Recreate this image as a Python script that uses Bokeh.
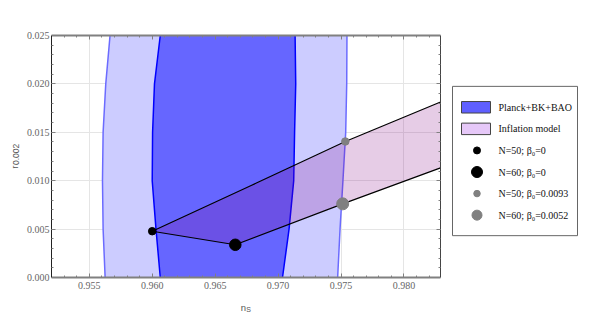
import math
from bokeh.plotting import figure
from bokeh.models import (Range1d, LinearAxis, SingleIntervalTicker, NumeralTickFormatter,
                          CustomJSTickFormatter)
from bokeh.layouts import row, column
from bokeh.embed import file_html
from bokeh.resources import INLINE
from bokeh.core.properties import value

# ---- data ----
r_levels = [0.000, 0.005, 0.010, 0.015, 0.020, 0.025]
outer_left = [0.95626, 0.95610, 0.95605, 0.95610, 0.95631, 0.95665]
outer_right = [0.97473, 0.97492, 0.97515, 0.97537, 0.97545, 0.97547]
inner_left = [0.96064, 0.96030, 0.96000, 0.96003, 0.96018, 0.96064]
inner_right = [0.97035, 0.97087, 0.97124, 0.97131, 0.97140, 0.97135]

n50_ns = [0.9600, 0.96786, 0.97534, 0.9829]
n50_r = [0.00478, 0.00950, 0.01405, 0.01813]
n60_ns = [0.9666, 0.97513, 0.9829]
n60_r = [0.00338, 0.00761, 0.01133]

pt_labels = ["N=50; β₀=0", "N=60; β₀=0", "N=50; β₀=0.0093", "N=60; β₀=0.0052"]
pt_ns = [0.9600, 0.9666, 0.97534, 0.97513]
pt_r = [0.00478, 0.00338, 0.01405, 0.00761]

region_labels = ["Planck+BK+BAO", "Inflation model"]

x_title = ["n", "S"]
y_title = ["r", "0.002"]

# ---- styles ----
pt_colors = ["black", "black", "#808080", "#808080"]
pt_sizes = [7.5, 11.5, 7.5, 12]
leg_pt_sizes = [7, 11, 6.5, 10]
region_colors = ["#5f5fff", "#e6c8f8"]

SERIF = "Liberation Serif"
SANS = "Liberation Sans"
TITLE_COLOR = "#555555"

MAIN_H = 295
YLAB_W = 23

p = figure(width=442 - YLAB_W, height=MAIN_H, x_range=Range1d(0.9520, 0.9829),
           y_range=Range1d(0, 0.025),
           output_backend="svg", toolbar_location=None,
           x_axis_location=None, y_axis_location=None,
           min_border_left=48 - YLAB_W, min_border_right=2, min_border_top=35, min_border_bottom=18)
p.outline_line_color = None
p.background_fill_color = "white"
p.border_fill_color = "white"


def mk_axis(labels, line_color, line_width, standoff=4):
    ax = LinearAxis(ticker=SingleIntervalTicker(interval=0.005, num_minor_ticks=5))
    if labels:
        ax.formatter = NumeralTickFormatter(format="0.000")
        ax.major_label_standoff = standoff
    else:
        ax.formatter = CustomJSTickFormatter(code="return ''")
        ax.major_label_standoff = 0
    ax.major_tick_in = 4
    ax.major_tick_out = 0
    ax.minor_tick_in = 2
    ax.minor_tick_out = 0
    ax.major_tick_line_color = "#808080"
    ax.minor_tick_line_color = "#808080"
    ax.axis_line_color = line_color
    ax.axis_line_width = line_width
    ax.major_label_text_font = SERIF
    ax.major_label_text_font_size = "10px"
    ax.major_label_text_color = "#666666"
    return ax


p.add_layout(mk_axis(True, "#808080", 2), "below")
p.add_layout(mk_axis(True, "#222222", 1, standoff=2), "left")
p.add_layout(mk_axis(False, "#808080", 2), "above")
p.add_layout(mk_axis(False, "#444444", 1), "right")

# confidence regions
outer_x = outer_left + outer_right[::-1]
outer_y = r_levels + r_levels[::-1]
inner_x = inner_left + inner_right[::-1]
inner_y = r_levels + r_levels[::-1]
p.patch(outer_x, outer_y, fill_color="#ccccff", line_color=None)
p.line(outer_left, r_levels, line_color="#6b6bff", line_width=1.5)
p.line(outer_right, r_levels, line_color="#6b6bff", line_width=1.5)
p.patch(inner_x, inner_y, fill_color="#6666ff", line_color=None)
p.line(inner_left, r_levels, line_color="#0000ff", line_width=1.5)
p.line(inner_right, r_levels, line_color="#0000ff", line_width=1.5)

# inflation model band
infl_x = n50_ns + n60_ns[::-1]
infl_y = n50_r + n60_r[::-1]
p.patch(infl_x, infl_y, fill_color="#800080", fill_alpha=0.2, line_color=None)
p.line(n50_ns, n50_r, line_color="black", line_width=1.2)
p.line(n60_ns, n60_r, line_color="black", line_width=1.2)
p.line([n50_ns[0], n60_ns[0]], [n50_r[0], n60_r[0]], line_color="black", line_width=1.2)

p.scatter(pt_ns, pt_r, size=pt_sizes, fill_color=pt_colors, line_color=pt_colors)


def blank_fig(w, h, y_down=False):
    f = figure(width=w, height=h, x_range=Range1d(0, w),
               y_range=Range1d(h, 0) if y_down else Range1d(0, h),
               output_backend="svg", toolbar_location=None,
               x_axis_location=None, y_axis_location=None, min_border=0)
    f.outline_line_color = None
    f.grid.visible = False
    return f


# ---- y axis title panel (rotated, with subscript) ----
ylab = blank_fig(YLAB_W, MAIN_H)
ylab.text([13.5, 15.5], [MAIN_H - 160.5, MAIN_H - 145], text=y_title, angle=math.pi / 2,
          text_align="center", text_baseline="middle", text_font=value(SANS),
          text_font_size=["9.5px", "8.5px"], text_color=TITLE_COLOR)

# ---- legend panel ----
lg = blank_fig(143, MAIN_H, y_down=True)
LEG_TOP = 87.5
LEG_PITCH = 26.3
row_y = [LEG_TOP + i * LEG_PITCH for i in range(len(region_labels) + len(pt_labels))]

lg.quad(left=10, right=135, top=62, bottom=244, fill_color="white", line_color="#666666", line_width=1)
lg.quad(left=19, right=48, top=[y - 7 for y in row_y[:2]], bottom=[y + 7 for y in row_y[:2]],
        fill_color=region_colors, line_color="#444444", line_width=1)
lg.scatter([34.5] * len(pt_labels), row_y[2:], size=leg_pt_sizes,
           fill_color=pt_colors, line_color=pt_colors)
lg.text([56] * len(row_y), row_y, text=region_labels + pt_labels, text_baseline="middle",
        text_align="left", text_font=value(SERIF), text_font_size="10px", text_color="#111111")

# ---- x axis title panel (with subscript) ----
xlab = blank_fig(585, 20)
xlab.text([245.5, 245.7], [7.7, 5.7], text=x_title, text_align=["right", "left"],
          text_baseline="alphabetic", text_font=value(SANS),
          text_font_size=["9.5px", "7px"], text_color=TITLE_COLOR)

layout = column(row(ylab, p, lg), xlab)
open("out.html", "w").write(file_html(layout, INLINE))
